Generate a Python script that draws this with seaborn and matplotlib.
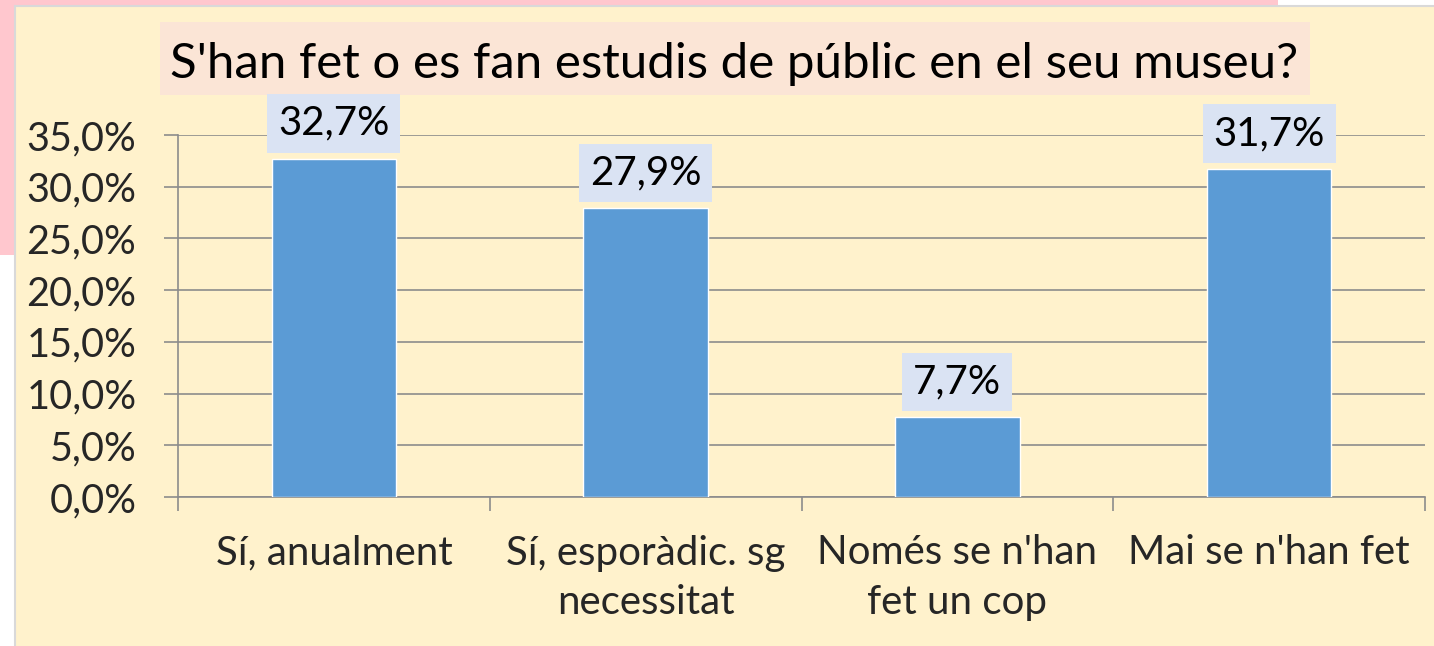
import matplotlib
matplotlib.use("Agg")
import matplotlib.pyplot as plt
from matplotlib.patches import Rectangle
import seaborn as sns
import pandas as pd

categories = ["Sí, anualment", "Sí, esporàdic. sg\nnecessitat", "Només se n'han\nfet un cop", "Mai se n'han fet"]
values = [32.7, 27.9, 7.7, 31.7]
yticks = [0, 5, 10, 15, 20, 25, 30, 35]
title = "S'han fet o es fan estudis de públic en el seu museu?"

sns.set_theme(style="white")
plt.rcParams["font.family"] = ["Lato", "DejaVu Sans"]

W, H = 1434, 646
fig = plt.figure(figsize=(W / 100, H / 100), dpi=100)
fig.patch.set_facecolor("white")

def px(x0, y0, x1, y1):
    return (x0 / W, 1 - y1 / H), (x1 - x0) / W, (y1 - y0) / H

# background decorations
xy, w, h = px(0, 0, 1278, 255)
fig.patches.append(Rectangle(xy, w, h, transform=fig.transFigure, facecolor="#ffc7ce", edgecolor="none", zorder=-3))
xy, w, h = px(15, 6, 1440, 652)
fig.patches.append(Rectangle(xy, w, h, transform=fig.transFigure, facecolor="#fff2cc", edgecolor="#d9d9d9", linewidth=1.5, zorder=-2))
xy, w, h = px(160, 22, 1310, 95)
fig.patches.append(Rectangle(xy, w, h, transform=fig.transFigure, facecolor="#fbe5d6", edgecolor="none", zorder=-1))
fig.text(734 / W, 1 - 78 / H, title, ha="center", va="baseline", fontsize=35.5, color="black")

ax = fig.add_axes([178 / W, 1 - 497 / H, (1425 - 178) / W, (497 - 135) / H])
ax.set_facecolor("none")

df = pd.DataFrame({"cat": categories, "val": values})
sns.barplot(data=df, x="cat", y="val", color="#5b9bd5", width=0.4, ax=ax, saturation=1, zorder=3)

ax.set_ylim(0, 35)
ax.set_xlim(-0.5, len(categories) - 0.5)
ax.set_yticks(yticks)
ax.set_yticklabels([f"{v:.1f}%".replace(".", ",") for v in yticks], fontsize=28.5)
ax.yaxis.grid(True, color="#8c8c8c", linewidth=1.2)
ax.set_axisbelow(True)
ax.tick_params(axis="y", length=10, width=1.2, color="#8c8c8c", pad=20, left=True)
ax.set_xticks(range(len(categories)))
ax.set_xticklabels(categories, fontsize=29, linespacing=1.42)
ax.tick_params(axis="x", length=0, pad=27)
ax.set_xticks([i - 0.5 for i in range(len(categories) + 1)], minor=True)
ax.tick_params(axis="x", which="minor", length=10, width=1.2, color="#8c8c8c", bottom=True)
ax.set_xlabel("")
ax.set_ylabel("")
for s in ["top", "right"]:
    ax.spines[s].set_visible(False)
for s in ["left", "bottom"]:
    ax.spines[s].set_color("#8c8c8c")
    ax.spines[s].set_linewidth(1.2)

for i, v in enumerate(values):
    ax.annotate(f"{v:.1f}%".replace(".", ","), (i, v), xytext=(0, 25.5), textcoords="offset points",
                ha="center", va="center", fontsize=29, color="black",
                bbox=dict(boxstyle="square,pad=0.27", facecolor="#dae3f3", edgecolor="none"), zorder=5)

fig.savefig("out.png", dpi=100)
